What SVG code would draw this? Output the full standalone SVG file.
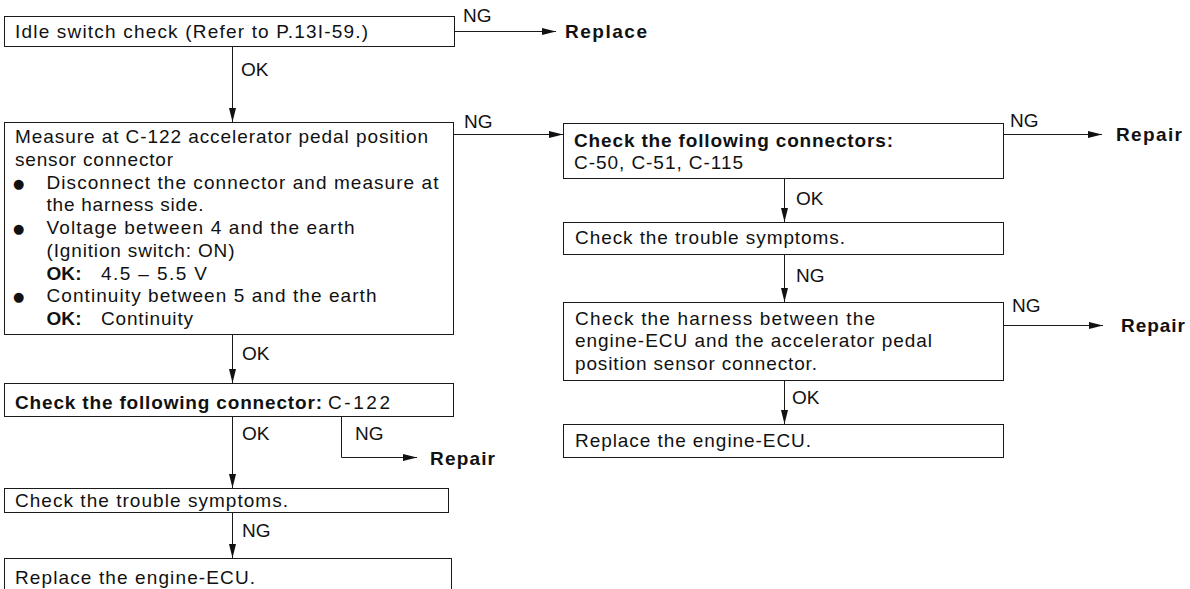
<svg xmlns="http://www.w3.org/2000/svg" width="1190" height="589" viewBox="0 0 1190 589">
<style>
.box{fill:#fff;stroke:#1a1a1a;stroke-width:1}
.t{font-family:"Liberation Sans",Arial,sans-serif;font-size:19px;fill:#111}
.b{font-weight:bold}
.lb{font-family:"Liberation Sans",Arial,sans-serif;font-size:19px;fill:#111}
.bul{font-family:"DejaVu Sans",sans-serif;font-size:13px;fill:#111}
.ln{stroke:#1a1a1a;stroke-width:1;fill:none}
.arr{marker-end:url(#ah)}
</style>
<defs>
<marker id="ah" markerUnits="userSpaceOnUse" markerWidth="15" markerHeight="8" refX="14" refY="4" orient="auto">
<path d="M0,0.5 L14,4 L0,7.5 z" fill="#111"/>
</marker>
</defs>

<g id="connectors">
<path class="ln arr" d="M454.5,31.5 H556"/>
<path class="ln arr" d="M232.5,46.5 V122"/>
<path class="ln arr" d="M453.5,134.5 H563"/>
<path class="ln arr" d="M1003.5,134.5 H1102"/>
<path class="ln arr" d="M784.5,178.5 V222"/>
<path class="ln arr" d="M784.5,254.5 V302"/>
<path class="ln arr" d="M1003.5,325.5 H1103"/>
<path class="ln arr" d="M784.5,380.5 V424"/>
<path class="ln arr" d="M232.5,334.5 V383"/>
<path class="ln arr" d="M232.5,416.5 V488"/>
<path class="ln arr" d="M341.5,416.5 V457.5 H417"/>
<path class="ln arr" d="M232.5,512.5 V558"/>
<text class="lb" x="463" y="22">NG</text>
<text class="lb b" x="565" y="38" textLength="82" lengthAdjust="spacing">Replace</text>
<text class="lb" x="241" y="76">OK</text>
<text class="lb" x="464" y="128">NG</text>
<text class="lb" x="1010" y="127">NG</text>
<text class="lb b" x="1116" y="141" textLength="66" lengthAdjust="spacing">Repair</text>
<text class="lb" x="796" y="205">OK</text>
<text class="lb" x="796" y="282">NG</text>
<text class="lb" x="1012" y="312">NG</text>
<text class="lb b" x="1121" y="332" textLength="64" lengthAdjust="spacing">Repair</text>
<text class="lb" x="792" y="404">OK</text>
<text class="lb" x="242" y="360">OK</text>
<text class="lb" x="242" y="440">OK</text>
<text class="lb" x="355" y="440">NG</text>
<text class="lb b" x="430" y="465" textLength="65" lengthAdjust="spacing">Repair</text>
<text class="lb" x="242" y="537">NG</text>
</g>

<g id="n1">
<rect class="box" x="4.5" y="16.5" width="450" height="30"/>
<text class="t" x="15" y="38" textLength="353" lengthAdjust="spacing">Idle switch check (Refer to P.13I-59.)</text>
</g>

<g id="n2">
<rect class="box" x="4.5" y="122.5" width="449" height="212"/>
<text class="t" x="15" y="143" textLength="413" lengthAdjust="spacing">Measure at C-122 accelerator pedal position</text>
<text class="t" x="15" y="165.75" textLength="158" lengthAdjust="spacing">sensor connector</text>
<text class="bul" x="13" y="187.5">●</text>
<text class="t" x="46.5" y="188.5" textLength="392" lengthAdjust="spacing">Disconnect the connector and measure at</text>
<text class="t" x="46.5" y="211.25" textLength="157" lengthAdjust="spacing">the harness side.</text>
<text class="bul" x="13" y="233">●</text>
<text class="t" x="46.5" y="234" textLength="308" lengthAdjust="spacing">Voltage between 4 and the earth</text>
<text class="t" x="46.5" y="256.75" textLength="188" lengthAdjust="spacing">(Ignition switch: ON)</text>
<text class="t b" x="46.5" y="279.5" textLength="35" lengthAdjust="spacing">OK:</text>
<text class="t" x="101" y="279.5" textLength="106" lengthAdjust="spacing">4.5 – 5.5 V</text>
<text class="bul" x="13" y="301.25">●</text>
<text class="t" x="46.5" y="302.25" textLength="330" lengthAdjust="spacing">Continuity between 5 and the earth</text>
<text class="t b" x="46.5" y="325" textLength="35" lengthAdjust="spacing">OK:</text>
<text class="t" x="101" y="325" textLength="92" lengthAdjust="spacing">Continuity</text>
</g>

<g id="n3">
<rect class="box" x="4.5" y="383.5" width="449" height="33"/>
<text class="t b" x="15" y="408.5" textLength="307" lengthAdjust="spacing">Check the following connector:</text>
<text class="t" x="328" y="408.5" textLength="62" lengthAdjust="spacing">C-122</text>
</g>

<g id="n4">
<rect class="box" x="4.5" y="488.5" width="444" height="24"/>
<text class="t" x="15" y="506.5" textLength="273" lengthAdjust="spacing">Check the trouble symptoms.</text>
</g>

<g id="n5">
<rect class="box" x="4.5" y="558.5" width="447" height="45"/>
<text class="t" x="15" y="584" textLength="240" lengthAdjust="spacing">Replace the engine-ECU.</text>
</g>

<g id="n6">
<rect class="box" x="563.5" y="123.5" width="440" height="55"/>
<text class="t b" x="574" y="146.5" textLength="319" lengthAdjust="spacing">Check the following connectors:</text>
<text class="t" x="574" y="169" textLength="169" lengthAdjust="spacing">C-50, C-51, C-115</text>
</g>

<g id="n7">
<rect class="box" x="563.5" y="222.5" width="440" height="32"/>
<text class="t" x="575" y="244" textLength="270" lengthAdjust="spacing">Check the trouble symptoms.</text>
</g>

<g id="n8">
<rect class="box" x="563.5" y="302.5" width="440" height="78"/>
<text class="t" x="575" y="324.5" textLength="300" lengthAdjust="spacing">Check the harness between the</text>
<text class="t" x="575" y="347.25" textLength="357" lengthAdjust="spacing">engine-ECU and the accelerator pedal</text>
<text class="t" x="575" y="370" textLength="242" lengthAdjust="spacing">position sensor connector.</text>
</g>

<g id="n9">
<rect class="box" x="563.5" y="424.5" width="440" height="33"/>
<text class="t" x="575" y="447" textLength="236" lengthAdjust="spacing">Replace the engine-ECU.</text>
</g>
</svg>
